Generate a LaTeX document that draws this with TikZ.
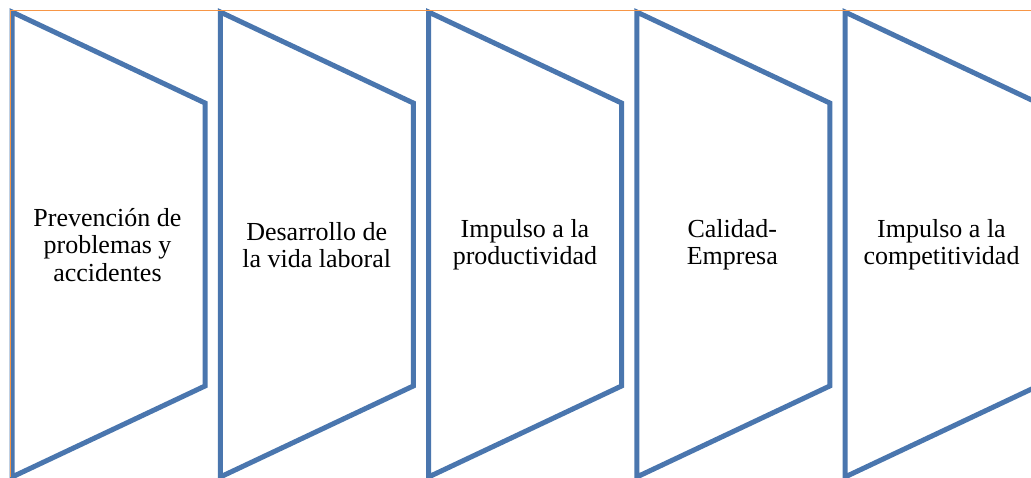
\documentclass[tikz,border=0pt]{standalone}
\usepackage{fontspec}
\setmainfont{Liberation Serif}
\definecolor{stroke}{HTML}{4A76AE}
\definecolor{frame}{HTML}{F79646}
\begin{document}
\begin{tikzpicture}[x=1pt,y=-1pt,
  chev/.style={draw=stroke,line width=5pt,line join=miter,fill=white},
  lbl/.style={align=center,font=\fontsize{26}{27.3}\selectfont,inner sep=0pt},
  rim/.style={draw=frame,line width=1.4pt}]
\useasboundingbox (0,0) rectangle (1031,477);
\begin{scope}
\clip (0,0) rectangle (1031,477);
\foreach \i in {0,...,4}{
  \pgfmathsetmacro{\xl}{12+208.25*\i}
  \pgfmathsetmacro{\xr}{\xl+193}
  \draw[chev] (\xl,12) -- (\xr,103) -- (\xr,386) -- (\xl,477) -- cycle;
}
\end{scope}
\node[lbl] (t1) at (107.5,245) {Prevención de\\problemas y\\accidentes};
\node[lbl] (t2) at (316.7,245) {Desarrollo de\\la vida laboral};
\node[lbl] (t3) at (525,245) {Impulso a la\\productividad};
\node[lbl] (t4) at (732.3,245) {Calidad-\\Empresa};
\node[lbl] (t5) at (941.5,245) {Impulso a la\\competitividad};
\draw[rim] (10.3,477) -- (10.3,10.5) -- (1031,10.5);
\end{tikzpicture}
\end{document}
